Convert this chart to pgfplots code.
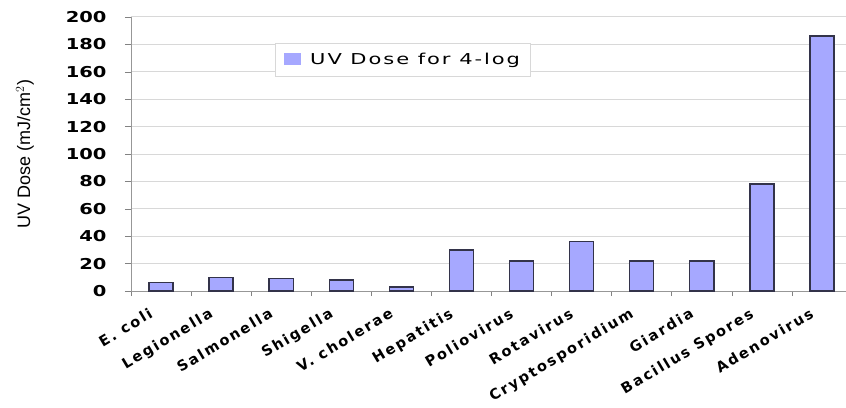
\documentclass[border=0pt]{standalone}
\usepackage{pgfplots}
\pgfplotsset{compat=1.18}
\usepackage{fontspec}
\setmainfont{DejaVu Sans}
\newfontfamily\tickfont[FakeStretch=1.3]{DejaVu Sans Bold}
\newfontfamily\xtickfont[LetterSpace=14]{DejaVu Sans Bold}
\newfontfamily\legfont[FakeStretch=1.4,LetterSpace=13]{DejaVu Sans}
\newfontfamily\labfont{Liberation Sans}
\definecolor{barfill}{HTML}{A6A8FF}
\definecolor{baredge}{HTML}{33334A}
\definecolor{gridc}{HTML}{D8D8D8}
\begin{document}
\begin{tikzpicture}
\begin{axis}[
  name=ax,
  scale only axis,
  width=715pt, height=274pt,
  xmin=-0.5, xmax=11.4,
  ymin=0, ymax=200,
  ytick={0,20,...,200},
  xtick={0,...,11},
  xticklabels={E. coli,Legionella,Salmonella,Shigella,V. cholerae,Hepatitis,Poliovirus,Rotavirus,Cryptosporidium,Giardia,Bacillus Spores,Adenovirus},
  minor xtick={-0.5,0.5,...,11.5},
  major x tick style={draw=none},
  minor tick length=5pt,
  major tick length=6pt,
  tick style={gridc!60!black, line width=0.6pt},
  tick align=outside,
  ymajorgrids,
  grid style={gridc, line width=1pt},
  axis x line*=bottom,
  axis y line*=left,
  axis line style={gridc!70!black, line width=0.8pt},
  x axis line style={-},
  y axis line style={-},
  /pgf/number format/assume math mode=true,
  yticklabel style={font=\tickfont\fontsize{15}{15}\selectfont, black, xshift=-15pt},
  xticklabel style={xshift=-13pt, yshift=-10pt, font=\xtickfont\fontsize{14.5}{14.5}\selectfont, black, rotate=31, anchor=north east, inner sep=0pt},
  ylabel={UV Dose (mJ/cm$^{2}$)},
  ylabel style={font=\labfont\fontsize{18}{18}\selectfont},
  ylabel shift=25pt,
  legend style={at={(0.2014,0.905)}, anchor=north west, draw=gridc, line width=1pt, fill=white,
    font=\legfont\fontsize{15}{15}\selectfont, inner xsep=8pt, inner ysep=8pt},
  legend image code/.code={\draw[fill=barfill, draw=none] (0pt,-5pt) rectangle (17pt,7pt); \path (24pt,0pt);},
  clip=true,
]
\addplot[ybar, bar width=0.4, fill=barfill, draw=baredge, line width=1.4pt] coordinates {
(0,6) (1,10) (2,9) (3,8) (4,3) (5,30) (6,22) (7,36) (8,22) (9,22) (10,78) (11,186)
};
\addlegendentry{UV Dose for 4-log}
\end{axis}
\pgfresetboundingbox
\path ([xshift=-131pt,yshift=-116pt]ax.south west) rectangle ([yshift=17pt]ax.north east);
\end{tikzpicture}
\end{document}
